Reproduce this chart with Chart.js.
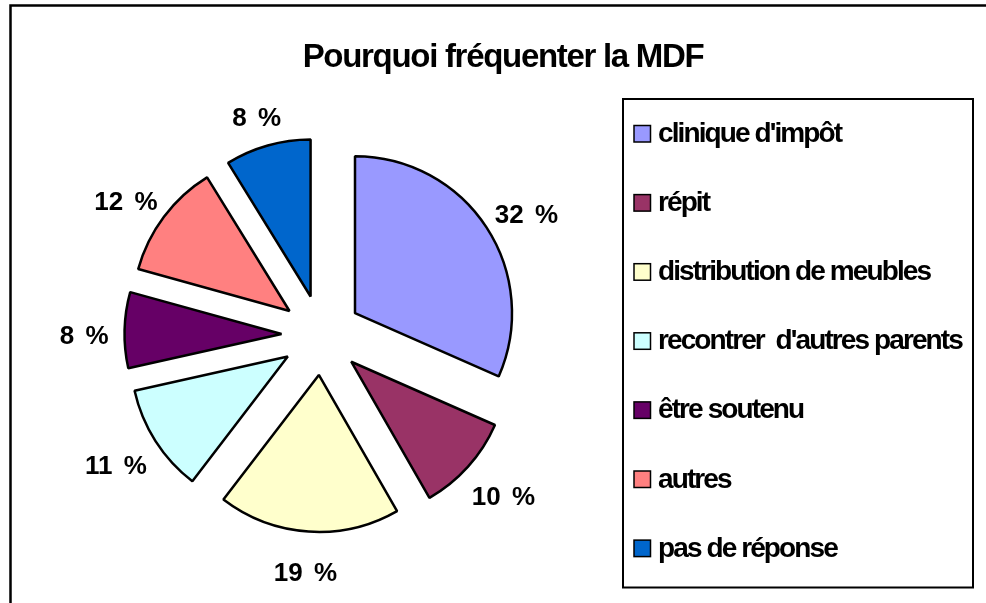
<!DOCTYPE html>
<html>
<head>
<meta charset="utf-8">
<script src="https://cdn.jsdelivr.net/npm/chart.js@4.4.1/dist/chart.umd.min.js"></script>
<style>
  html, body { margin: 0; padding: 0; background: #ffffff; }
  #wrap { width: 986px; height: 603px; position: relative; }
</style>
</head>
<body>
<div id="wrap"><canvas id="c" width="986" height="603"></canvas></div>
<script>
// ---- data ----
const chartTitle = 'Pourquoi fréquenter la MDF';
const categories = [
  "clinique d'impôt",
  'répit',
  'distribution de meubles',
  "recontrer  d'autres parents",
  'être soutenu',
  'autres',
  'pas de réponse'
];
// slice shares
const sliceShares = [31.6, 10.1, 18.7, 11.1, 7.8, 11.9, 8.8];
// data labels as printed on the picture
const percentLabels = ['32 %', '10 %', '19 %', '11 %', '8 %', '12 %', '8 %'];

// ---- styles ----
const sliceColors = ['#9999FF', '#993366', '#FFFFCC', '#CCFFFF', '#660066', '#FF8080', '#0066CC'];
const EXPLODE = 40;
const FONT = '"Liberation Sans", Arial, sans-serif';

const decor = {
  id: 'decor',
  afterDatasetUpdate(chart, args) {
    // exploded pie: push every slice outward along its bisector
    args.meta.data.forEach(arc => {
      const mid = (arc.startAngle + arc.endAngle) / 2;
      arc.x += Math.cos(mid) * EXPLODE;
      arc.y += Math.sin(mid) * EXPLODE;
    });
  },
  beforeDraw(chart) {
    const ctx = chart.ctx;
    ctx.save();
    // outer chart frame (right/bottom edges lie outside the picture)
    ctx.strokeStyle = '#000';
    ctx.lineWidth = 2.5;
    ctx.beginPath();
    ctx.moveTo(10.5, 1200);
    ctx.lineTo(10.5, 5.5);
    ctx.lineTo(1200, 5.5);
    ctx.stroke();
    // title
    ctx.fillStyle = '#000';
    ctx.font = 'bold 33px ' + FONT;
    ctx.letterSpacing = '-1.3px';
    ctx.textAlign = 'center';
    ctx.textBaseline = 'alphabetic';
    ctx.fillText(chartTitle, 503, 67);
    ctx.restore();
  },
  afterDraw(chart) {
    const ctx = chart.ctx;
    ctx.save();
    // legend frame
    ctx.strokeStyle = '#000';
    ctx.lineWidth = 2;
    ctx.strokeRect(623, 99, 350, 488.5);
    // legend items
    ctx.font = 'bold 28px ' + FONT;
    ctx.letterSpacing = '-1.9px';
    ctx.textAlign = 'left';
    ctx.textBaseline = 'alphabetic';
    categories.forEach((name, i) => {
      const top = 125 + i * 69.1;
      ctx.fillStyle = sliceColors[i];
      ctx.fillRect(634, top + 0.5, 16.5, 16.5);
      ctx.lineWidth = 1.5;
      ctx.strokeStyle = '#000';
      ctx.strokeRect(634, top + 0.5, 16.5, 16.5);
      ctx.fillStyle = '#000';
      ctx.fillText(name, 658, top + 17);
    });
    // percentage labels outside the slices
    ctx.letterSpacing = '0px';
    try { ctx.wordSpacing = '4px'; } catch (e) {}
    ctx.font = 'bold 26px ' + FONT;
    ctx.textAlign = 'center';
    const meta = chart.getDatasetMeta(0);
    const digitH = 19;
    meta.data.forEach((arc, i) => {
      const mid = (arc.startAngle + arc.endAngle) / 2;
      const ux = Math.cos(mid), uy = Math.sin(mid);
      const txt = percentLabels[i];
      const w = ctx.measureText(txt).width;
      const x = arc.x + ux * (arc.outerRadius + 16 + w / 2);
      const y = arc.y + uy * (arc.outerRadius + 35) + 5;
      ctx.fillStyle = '#000';
      ctx.fillText(txt, x, y + digitH / 2);
    });
    ctx.restore();
  }
};

new Chart(document.getElementById('c'), {
  type: 'pie',
  data: {
    labels: categories,
    datasets: [{
      data: sliceShares,
      backgroundColor: sliceColors,
      borderColor: '#000000',
      borderWidth: 2.5,
      hoverOffset: 0,
      radius: 157
    }]
  },
  options: {
    responsive: false,
    animation: false,
    layout: { padding: { left: 0, right: 343, top: 67, bottom: 0 } },
    plugins: {
      legend: { display: false },
      title: { display: false },
      tooltip: { enabled: false }
    }
  },
  plugins: [decor]
});
</script>
</body>
</html>
